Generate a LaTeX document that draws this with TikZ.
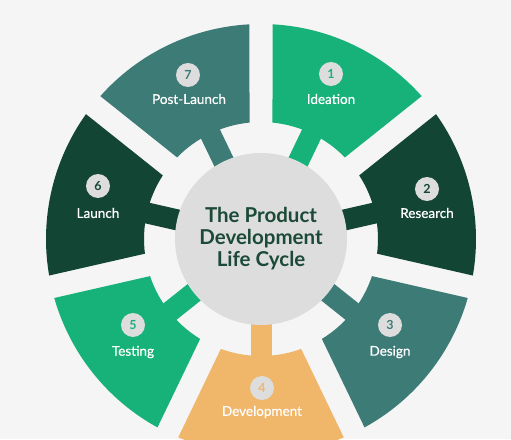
\documentclass[tikz,border=0pt]{standalone}
\usepackage{fontspec}
\setmainfont{Lato}
\newfontfamily\labfont{Lato}[FakeBold=0.6]
\definecolor{bgc}{HTML}{F5F5F5}
\definecolor{cbright}{HTML}{16B27A}
\definecolor{cdark}{HTML}{134535}
\definecolor{cteal}{HTML}{3D7B77}
\definecolor{corange}{HTML}{F0B66A}
\definecolor{chub}{HTML}{DDDDDD}
\definecolor{ctitle}{HTML}{1C4A38}
\newcommand{\pdseg}[2]{%
  \pgfmathsetmacro{\aoA}{#1+25.714-3.07}%
  \pgfmathsetmacro{\aoB}{#1-25.714+3.07}%
  \pgfmathsetmacro{\aiA}{#1+25.714-5.64}%
  \pgfmathsetmacro{\aiB}{#1-25.714+5.64}%
  \fill[#2] (\aoA:215) arc[start angle=\aoA, end angle=\aoB, radius=215]
    -- (\aiB:117) arc[start angle=\aiB, end angle=\aiA, radius=117] -- cycle;
  \fill[#2, rotate=#1] (60,-10.5) rectangle (125,10.5);
}
\begin{document}
\begin{tikzpicture}[x=1pt,y=1pt,
  badge/.style={circle, fill=chub, minimum size=24pt, inner sep=0pt, font=\bfseries\fontsize{12.5}{12.5}\selectfont},
  lab/.style={text=white, font=\labfont\fontsize{13.5}{14}\selectfont, inner sep=0pt}]
\useasboundingbox (-261,-200) rectangle (250,239);
\fill[bgc] (-261,-200) rectangle (250,239);
\begin{scope}
\clip (-261,-200) rectangle (250,239);
\pdseg{64.286}{cbright}
\pdseg{12.857}{cdark}
\pdseg{-38.571}{cteal}
\pdseg{-90}{corange}
\pdseg{-141.429}{cbright}
\pdseg{-192.857}{cdark}
\pdseg{-244.286}{cteal}
\end{scope}
\node[circle, fill=chub, minimum size=172pt, inner sep=0pt, align=center,
  text=ctitle, font=\bfseries\fontsize{20.5}{22}\selectfont] (hub) at (0,0)
  {The Product\\Development\\Life Cycle};
\node[badge, text=cbright] (b1) at (70,165) {1};
\node[lab] (l1) at (70,140) {Ideation};
\node[badge, text=cdark] (b2) at (166,50) {2};
\node[lab] (l2) at (166,26) {Research};
\node[badge, text=cteal] (b3) at (129,-86) {3};
\node[lab] (l3) at (129,-113) {Design};
\node[badge, text=corange] (b4) at (1,-149) {4};
\node[lab] (l4) at (1,-173) {Development};
\node[badge, text=cbright] (b5) at (-128,-86) {5};
\node[lab] (l5) at (-128,-113) {Testing};
\node[badge, text=cdark] (b6) at (-163,53) {6};
\node[lab] (l6) at (-163,26) {Launch};
\node[badge, text=cteal] (b7) at (-73,164) {7};
\node[lab] (l7) at (-72,140) {Post-Launch};
\end{tikzpicture}
\end{document}
